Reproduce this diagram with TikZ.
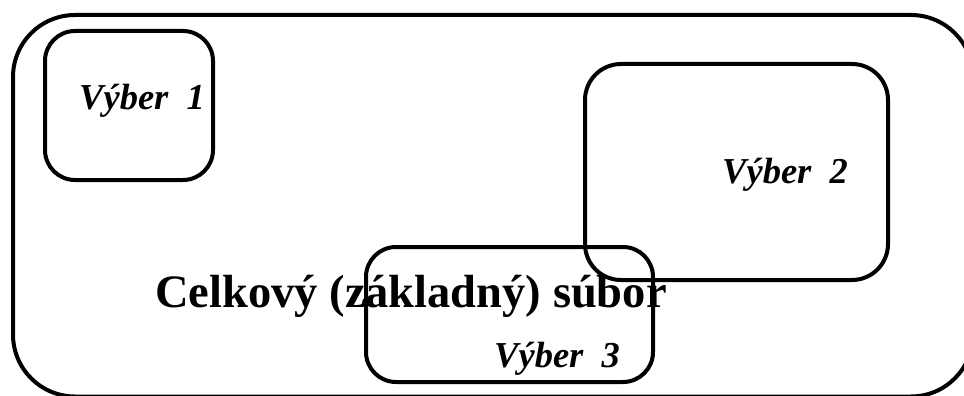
\documentclass[tikz,border=0pt]{standalone}
\usepackage{fontspec}
\setmainfont{Liberation Serif}
\begin{document}
\begin{tikzpicture}[x=1pt,y=-1pt,
  box/.style={draw=black,line width=4pt},
  vyb/.style={font=\fontsize{36.5}{42}\selectfont\bfseries\itshape,inner sep=0pt,anchor=base west},
  big/.style={font=\fontsize{46.5}{54}\selectfont\bfseries,inner sep=0pt,anchor=base west}]
\useasboundingbox (0,0) rectangle (964,396);
\begin{scope}
\clip (0,0) rectangle (964,396);
\draw[box,rounded corners=62pt] (13,15) rectangle (973,396.5);
\end{scope}
\draw[box,rounded corners=30pt] (45,31) rectangle (213,180);
\draw[box,rounded corners=36pt] (585,64) rectangle (888,280);
\draw[box,rounded corners=30pt] (366,247) rectangle (653,382);
\node[vyb] (v1) at (79,110) {Výber~~1};
\node[vyb] (v2) at (722,183) {Výber~~2};
\node[vyb] (v3) at (494,367) {Výber~~3};
\node[big] (cs) at (155,307) {Celkový (základný) súbor};
\end{tikzpicture}
\end{document}
